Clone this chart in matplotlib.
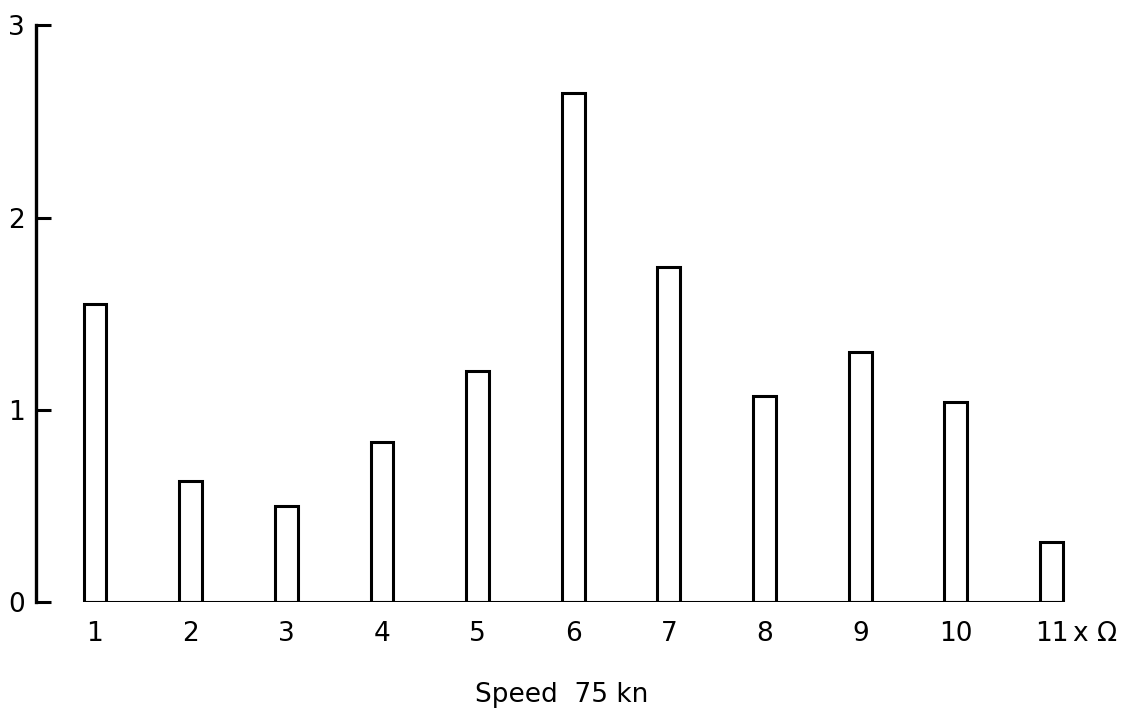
import matplotlib.pyplot as plt

orders = [1, 2, 3, 4, 5, 6, 7, 8, 9, 10, 11]
amplitude = [1.55, 0.63, 0.50, 0.83, 1.20, 2.65, 1.74, 1.07, 1.30, 1.04, 0.31]
order_labels = ['1', '2', '3', '4', '5', '6', '7', '8', '9', '10', '11']
y_ticks = [0, 1, 2, 3]

plt.rcParams['font.family'] = ['DejaVu Sans']

fig = plt.figure(figsize=(11.24, 7.21), dpi=100)
ax = fig.add_axes([0.032, 0.165, 0.93, 0.8])

width = 0.24
ax.bar(orders, amplitude, width=width, facecolor='white', edgecolor='black',
       linewidth=2.2, zorder=3)

# baseline only runs under the bars
ax.hlines(0, orders[0] - width / 2, orders[-1] + width / 2, color='black',
          linewidth=2.2, zorder=4)

ax.set_xlim(0.383, 11.31)
ax.set_ylim(0, 3)

for side in ['top', 'right', 'bottom']:
    ax.spines[side].set_visible(False)
ax.spines['left'].set_linewidth(2.4)

ax.set_yticks(y_ticks)
ax.set_yticklabels([str(t) for t in y_ticks], fontsize=19)
ax.tick_params(axis='y', direction='in', length=11, width=2.2, pad=8)

ax.set_xticks(orders)
ax.set_xticklabels(order_labels, fontsize=19)
ax.tick_params(axis='x', length=0, pad=14)

ax.text(11.22, -0.165, 'x Ω', fontsize=19, ha='left', va='center')
fig.text(0.5, 0.036, 'Speed  75 kn', fontsize=19, ha='center', va='center')

fig.savefig('out.png', dpi=100)
